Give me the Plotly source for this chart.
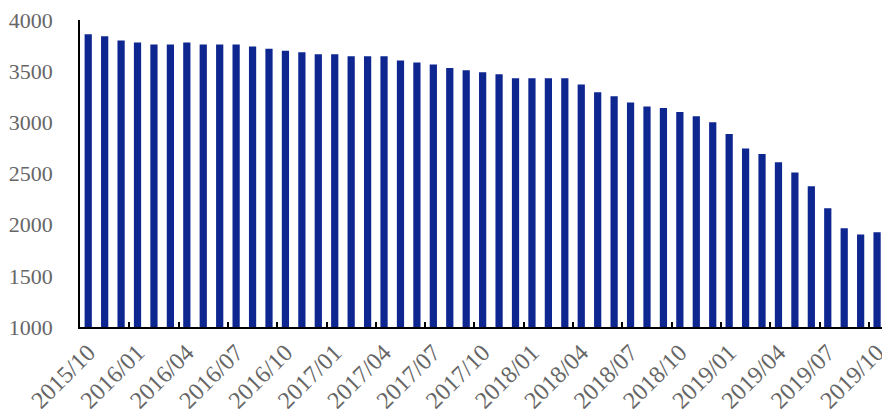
import plotly.graph_objects as go

months = []
for y in range(2015, 2020):
    for m in range(1, 13):
        if (y == 2015 and m < 10) or (y == 2019 and m > 10):
            continue
        months.append(f"{y}/{m:02d}")

values = [3860, 3840, 3800, 3780, 3760, 3760, 3780, 3760, 3760, 3760,
          3740, 3720, 3700, 3685, 3665, 3665, 3645, 3645, 3645, 3605,
          3585, 3565, 3530, 3510, 3490, 3470, 3430, 3430, 3430, 3430,
          3370, 3295, 3255, 3195, 3155, 3140, 3100, 3060, 3000, 2885,
          2745, 2690, 2610, 2510, 2375, 2160, 1965, 1905, 1925]

y_ticks = [1000, 1500, 2000, 2500, 3000, 3500, 4000]

fig = go.Figure(go.Bar(x=months, y=values, marker=dict(color="#0E2690", line=dict(width=0)),
                       hoverinfo="x+y"))

font = "Liberation Serif, Times New Roman, serif"
fig.update_layout(
    width=882, height=413,
    margin=dict(l=80, r=0, t=20, b=86),
    paper_bgcolor="white", plot_bgcolor="white",
    bargap=0.56,
    showlegend=False,
    font=dict(family=font, color="#666666", size=20),
)
fig.update_xaxes(
    type="category", range=[-0.5, 48.3], automargin=False,
    tickmode="linear", tick0=0, dtick=3, tickson="boundaries",
    tickangle=-45, ticks="inside", ticklen=5, tickwidth=1.5, tickcolor="black",
    showline=True, linecolor="black", linewidth=2,
    showgrid=False, tickfont=dict(family=font, size=24, color="#666666"),
)
fig.update_yaxes(
    range=[1000, 4000], tickvals=y_ticks, automargin=False,
    showline=True, linecolor="black", linewidth=1.5,
    showgrid=False, zeroline=False, ticks="",
    ticklabelstandoff=21,
    tickfont=dict(family=font, size=22, color="#666666"),
)
fig.write_html("out.html", config={"displayModeBar": False},
               post_script="document.body.style.margin='0';document.body.style.overflow='hidden';")
